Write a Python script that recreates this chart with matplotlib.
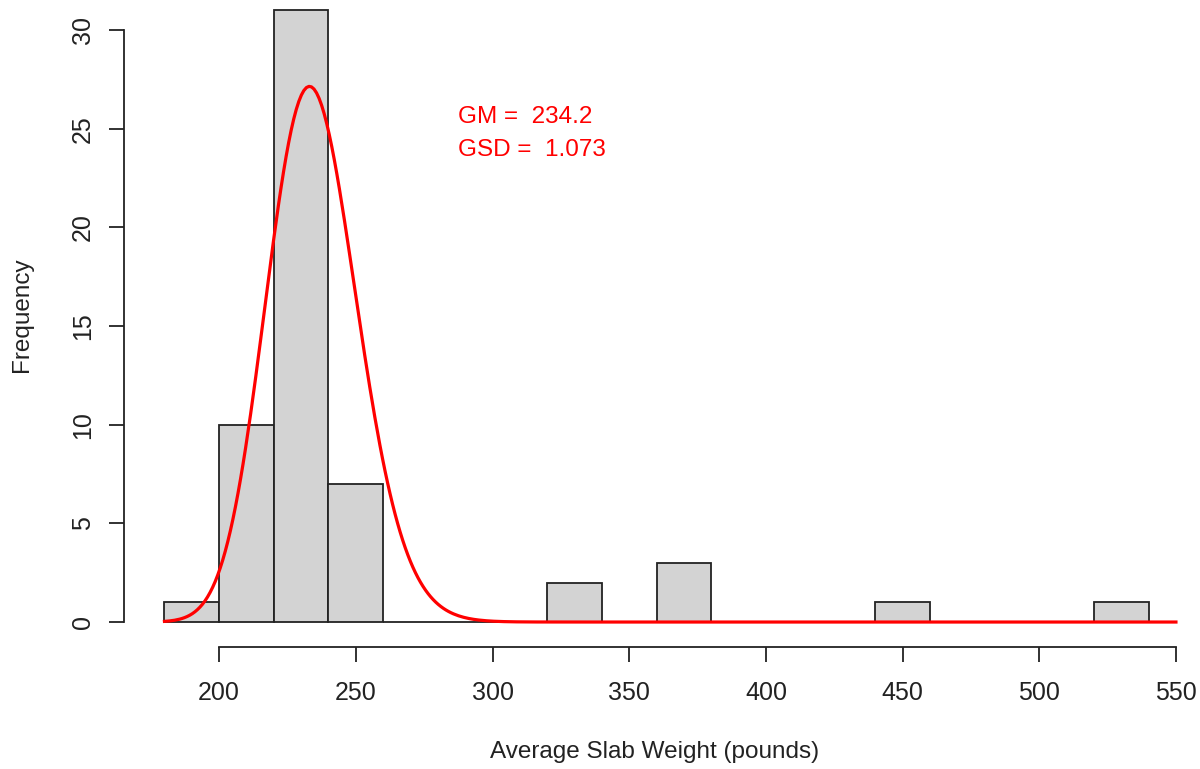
import matplotlib
matplotlib.use("Agg")
import matplotlib.pyplot as plt
import numpy as np

# histogram bins (pounds) and counts
bin_edges = [180, 200, 220, 240, 260, 280, 300, 320, 340, 360, 380,
             400, 420, 440, 460, 480, 500, 520, 540]
counts = [1, 10, 31, 7, 0, 0, 0, 2, 0, 3, 0, 0, 0, 1, 0, 0, 0, 1]

# fitted lognormal parameters shown on the chart
gm = 234.2
gsd = 1.073

x_ticks = [200, 250, 300, 350, 400, 450, 500, 550]
y_ticks = [0, 5, 10, 15, 20, 25, 30]

plt.rcParams["font.family"] = ["Liberation Sans", "DejaVu Sans"]

fig = plt.figure(figsize=(12, 7.69), dpi=100)
ax = fig.add_axes([124 / 1200, (769 - 646.5) / 769, 1076 / 1200, 646.5 / 769])

edges = np.array(bin_edges)
widths = np.diff(edges)
ax.bar(edges[:-1], counts, width=widths, align="edge",
       color="#d3d3d3", edgecolor="#222222", linewidth=1.3, zorder=2)

# lognormal density scaled to counts
n = sum(counts)
binw = widths[0]
mu, sigma = np.log(gm), np.log(gsd)
xs = np.linspace(180, 550, 400)
dens = np.exp(-(np.log(xs) - mu) ** 2 / (2 * sigma ** 2)) / (xs * sigma * np.sqrt(2 * np.pi))
ax.plot(xs, dens * n * binw, color="red", linewidth=2.3, zorder=3)

ax.text(287.5, 25.6, f"GM =  {gm}", color="red", fontsize=17.5, ha="left", va="center")
ax.text(287.5, 23.9, f"GSD =  {gsd}", color="red", fontsize=17.5, ha="left", va="center")

ax.set_xlim(165.2, 558.8)
ax.set_ylim(-1.24, 31.52)

for s in ["top", "right"]:
    ax.spines[s].set_visible(False)
ax.spines["left"].set_bounds(0, 30)
ax.spines["bottom"].set_bounds(200, 550)
for s in ["left", "bottom"]:
    ax.spines[s].set_linewidth(1.3)
    ax.spines[s].set_color("#222222")

ax.set_xticks(x_ticks)
ax.set_yticks(y_ticks)
ax.set_yticklabels([str(v) for v in y_ticks], rotation=90, va="center")
ax.tick_params(axis="both", length=11, width=1.3, color="#222222",
               labelsize=18, labelcolor="#222222")
ax.tick_params(axis="x", pad=14)
ax.tick_params(axis="y", pad=10)

fig.text(22 / 1200, 1 - 315 / 769, "Frequency", rotation=90, fontsize=17.5,
         ha="center", va="center", color="#222222")
fig.text(655 / 1200, 1 - 752 / 769, "Average Slab Weight (pounds)", fontsize=17.5,
         ha="center", va="center", color="#222222")

fig.savefig("out.png", dpi=100)
